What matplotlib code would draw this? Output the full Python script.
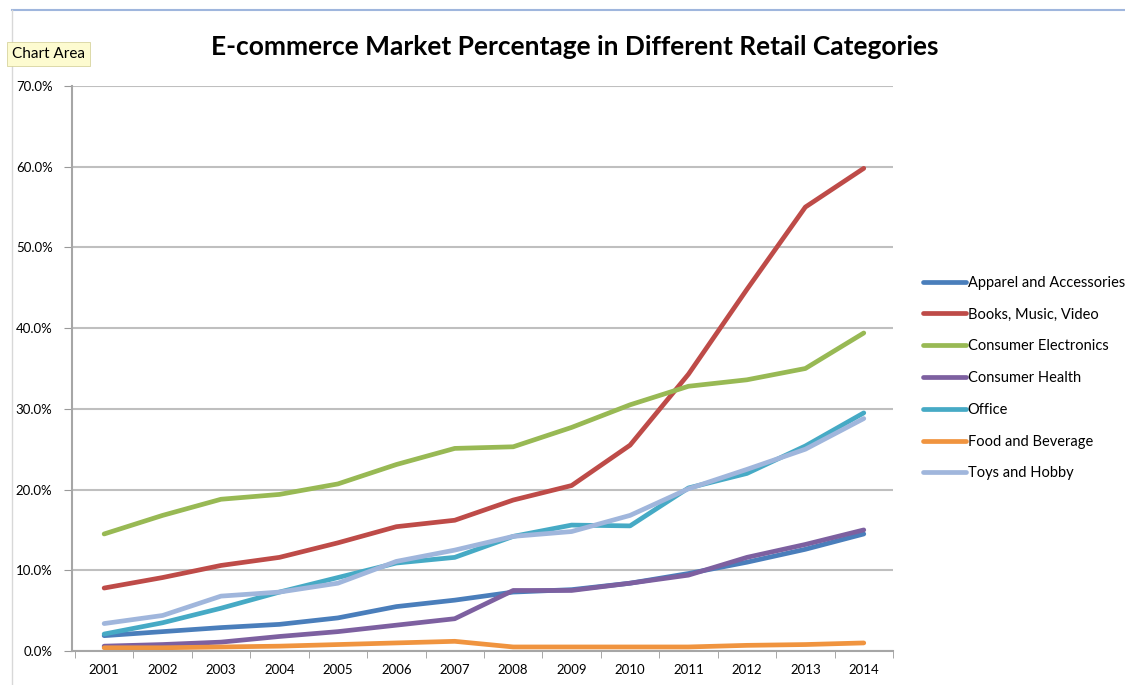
import matplotlib
matplotlib.use("Agg")
import matplotlib.pyplot as plt
from matplotlib.ticker import FuncFormatter, FixedLocator

plt.rcParams['font.family'] = ['Lato', 'DejaVu Sans']

years = ['2001', '2002', '2003', '2004', '2005', '2006', '2007',
         '2008', '2009', '2010', '2011', '2012', '2013', '2014']

apparel = [1.9, 2.4, 2.9, 3.3, 4.1, 5.5, 6.3, 7.3, 7.6, 8.4, 9.6, 11.0, 12.6, 14.5]
books = [7.8, 9.1, 10.6, 11.6, 13.4, 15.4, 16.2, 18.7, 20.5, 25.5, 34.3, 44.8, 55.0, 59.8]
electronics = [14.5, 16.8, 18.8, 19.4, 20.7, 23.1, 25.1, 25.3, 27.7, 30.5, 32.8, 33.6, 35.0, 39.4]
health = [0.6, 0.8, 1.1, 1.8, 2.4, 3.2, 4.0, 7.5, 7.5, 8.4, 9.4, 11.6, 13.2, 15.0]
office = [2.1, 3.5, 5.3, 7.3, 9.1, 10.9, 11.6, 14.2, 15.6, 15.5, 20.2, 22.0, 25.4, 29.5]
food = [0.4, 0.4, 0.5, 0.6, 0.8, 1.0, 1.2, 0.5, 0.5, 0.5, 0.5, 0.7, 0.8, 1.0]
toys = [3.4, 4.4, 6.8, 7.3, 8.4, 11.1, 12.5, 14.2, 14.8, 16.8, 20.1, 22.5, 25.0, 28.8]

series = [
    ("Apparel and Accessories", apparel, '#4A7EBB'),
    ("Books, Music, Video", books, '#BE4B48'),
    ("Consumer Electronics", electronics, '#98B954'),
    ("Consumer Health", health, '#7D60A0'),
    ("Office", office, '#46AAC5'),
    ("Food and Beverage", food, '#F0943F'),
    ("Toys and Hobby", toys, '#A0B6DC'),
]

fig = plt.figure(figsize=(11.25, 6.85), dpi=100)
ax = fig.add_axes([72/1125, 1 - 651/685, (893-72)/1125, (651-86)/685])

x = list(range(len(years)))
for name, vals, col in series:
    ax.plot(x, vals, color=col, linewidth=3.4, label=name, solid_capstyle='round')

ax.set_xlim(-0.55, 13.5)
ax.set_ylim(0, 70)
ax.yaxis.set_major_locator(FixedLocator([0, 10, 20, 30, 40, 50, 60, 70]))
ax.yaxis.set_major_formatter(FuncFormatter(lambda v, p: '%.1f%%' % v))
ax.set_xticks(x)
ax.set_xticklabels(years)
ax.set_xticks([i + 0.5 for i in range(-1, 14)], minor=True)
ax.tick_params(axis='x', which='major', length=0, labelsize=9.5, pad=9)
ax.tick_params(axis='x', which='minor', length=5, color='#999999', direction='out')
ax.tick_params(axis='y', length=6, color='#999999', labelsize=9.5, pad=8)
ax.grid(axis='y', color='#bfbfbf', linewidth=1.5)
ax.set_axisbelow(True)
for s in ['top', 'right']:
    ax.spines[s].set_visible(False)
for s in ['left', 'bottom']:
    ax.spines[s].set_color('#a6a6a6')
    ax.spines[s].set_linewidth(1.5)

fig.text(0.511, 1 - 47/685, 'E-commerce Market Percentage in Different Retail Categories',
         ha='center', va='center', fontsize=19, fontweight='bold')

ax.legend(loc='center left', bbox_to_anchor=(1.02, 0.483), frameon=False,
          fontsize=10.5, handlelength=3.0, handletextpad=0.1, labelspacing=1.22)

# window frame and tooltip from the screenshot
fig.add_artist(plt.Line2D([12/1125, 1], [1 - 10/685, 1 - 10/685], color='#9fb6dd', linewidth=1.5))
fig.add_artist(plt.Line2D([12/1125, 12/1125], [0, 1 - 10/685], color='#d8d8d8', linewidth=1))
fig.text(12/1125, 1 - 54/685, 'Chart Area', fontsize=11, va='center', ha='left',
         bbox=dict(boxstyle='square,pad=0.3', facecolor='#fdfbd0', edgecolor='#d0cc90', linewidth=0.5))

fig.savefig('out.png', dpi=100)
